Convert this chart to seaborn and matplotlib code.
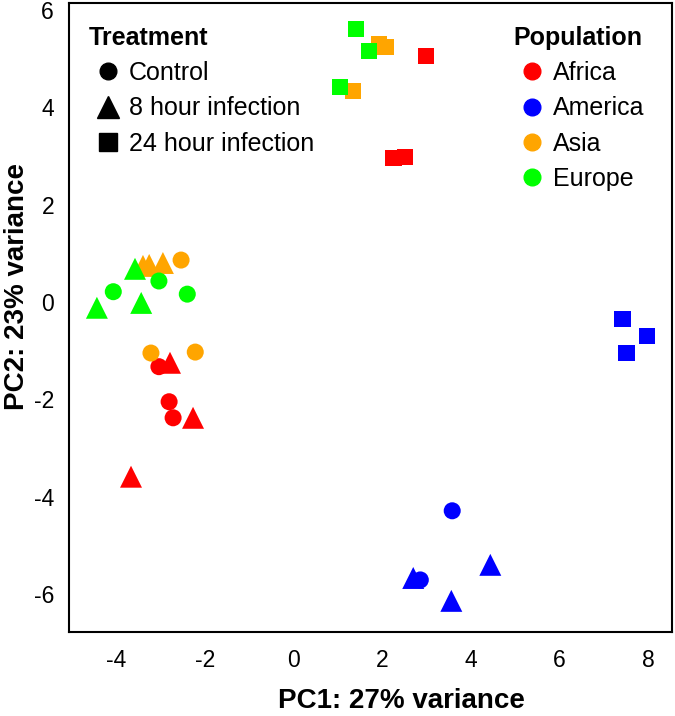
import pandas as pd
import seaborn as sns
import matplotlib.pyplot as plt
from matplotlib.lines import Line2D

# PCA scores
population = (['Africa'] * 9 + ['America'] * 8 + ['Asia'] * 9 + ['Europe'] * 9)
treatment = (['Control'] * 3 + ['8 hour infection'] * 3 + ['24 hour infection'] * 3
             + ['Control'] * 2 + ['8 hour infection'] * 3 + ['24 hour infection'] * 3
             + ['Control'] * 3 + ['8 hour infection'] * 3 + ['24 hour infection'] * 3
             + ['Control'] * 3 + ['8 hour infection'] * 3 + ['24 hour infection'] * 3)
pc1 = [-3.04, -2.81, -2.72, -2.79, -2.27, -3.67, 2.99, 2.25, 2.52,
       3.58, 2.86, 4.44, 2.70, 3.56, 7.42, 7.98, 7.51,
       -2.54, -3.22, -2.22, -3.40, -3.26, -2.95, 1.93, 2.07, 1.34,
       -3.04, -4.07, -2.40, -3.58, -4.44, -3.44, 1.41, 1.70, 1.05]
pc2 = [-1.33, -2.05, -2.38, -1.25, -2.38, -3.59, 5.05, 2.96, 2.98,
       -4.29, -5.71, -5.40, -5.67, -6.14, -0.35, -0.70, -1.05,
       0.86, -1.05, -1.03, 0.74, 0.76, 0.80, 5.30, 5.24, 4.33,
       0.43, 0.21, 0.16, 0.68, -0.12, -0.02, 5.61, 5.15, 4.41]

pop_names = ['Africa', 'America', 'Asia', 'Europe']
pop_colors = ['#FF0000', '#0000FF', '#FFA500', '#00FF00']
treat_names = ['Control', '8 hour infection', '24 hour infection']
treat_markers = ['o', '^', 's']
treat_sizes = [150, 250, 140]

df = pd.DataFrame({'PC1': pc1, 'PC2': pc2,
                   'Population': population, 'Treatment': treatment})

sns.set_style('white')
plt.rcParams['font.family'] = ['Liberation Sans', 'DejaVu Sans']
plt.rcParams['axes.unicode_minus'] = False
plt.rcParams['text.color'] = 'black'
plt.rcParams['axes.labelcolor'] = 'black'

fig = plt.figure(figsize=(6.75, 7.16), dpi=100)
ax = fig.add_axes([0.1022, 0.1173, 0.8933, 0.8785])

sns.scatterplot(data=df, x='PC1', y='PC2', hue='Population', style='Treatment',
                size='Treatment', hue_order=pop_names, style_order=treat_names,
                palette=dict(zip(pop_names, pop_colors)),
                markers=dict(zip(treat_names, treat_markers)),
                sizes=dict(zip(treat_names, treat_sizes)),
                linewidth=0, legend=False, ax=ax)

ax.set_xlim(-5.07, 8.54)
ax.set_ylim(-6.78, 6.14)
ax.set_xticks([-4, -2, 0, 2, 4, 6, 8])
ax.set_yticks([-6, -4, -2, 0, 2, 4, 6])
ax.tick_params(direction='out', length=7.2, width=1.1, color='#808080',
               labelsize=16.5, labelcolor='black')
ax.tick_params(axis='x', pad=5)
ax.tick_params(axis='y', pad=3.5)
for sp in ax.spines.values():
    sp.set_color('black')
    sp.set_linewidth(1.5)

ax.set_xlabel('PC1: 27% variance', fontsize=20, fontweight='bold')
ax.set_ylabel('PC2: 23% variance', fontsize=20, fontweight='bold')
ax.xaxis.set_label_coords(0.552, -0.089)
ax.yaxis.set_label_coords(-0.0646, 0.549)

# two legends: shape for treatment, colour for population
leg_kw = dict(loc='upper left', frameon=False, fontsize=18,
              title_fontproperties={'weight': 'bold', 'size': 18},
              alignment='left', handlelength=1.5, handletextpad=0.1,
              labelspacing=0.45, borderpad=0, borderaxespad=0)

treat_handles = [Line2D([], [], marker=m, color='black', linestyle='',
                        markersize=ms)
                 for m, ms in zip(treat_markers, [12, 16.5, 12.5])]
leg1 = ax.legend(treat_handles, treat_names, title='Treatment',
                 bbox_to_anchor=(0.0331, 0.9636), **leg_kw)
ax.add_artist(leg1)

pop_handles = [Line2D([], [], marker='o', color=c, linestyle='', markersize=12)
               for c in pop_colors]
ax.legend(pop_handles, pop_names, title='Population',
          bbox_to_anchor=(0.737, 0.9636), **leg_kw)

fig.savefig('out.png', dpi=100)
